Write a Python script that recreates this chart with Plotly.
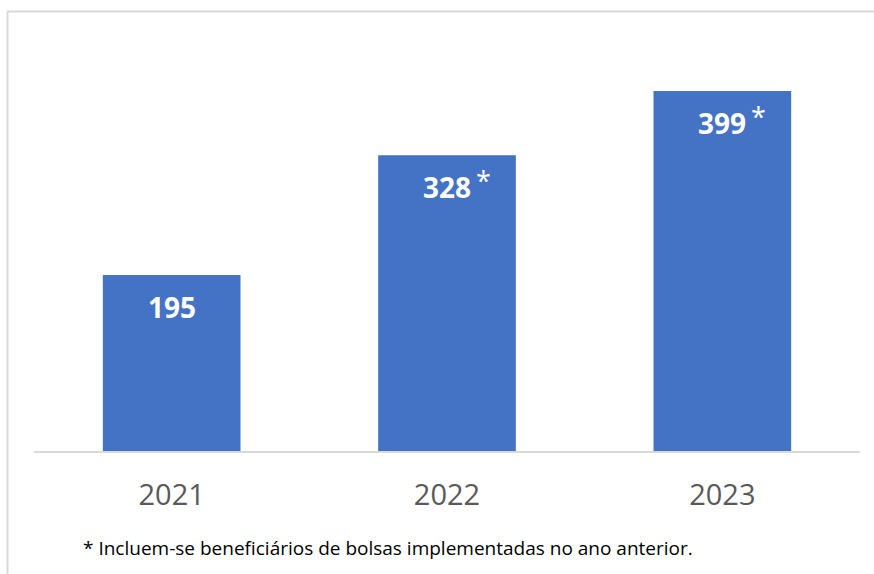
import plotly.graph_objects as go

years = ["2021", "2022", "2023"]
values = [195, 328, 399]
notes = ["", "*", "*"]
footnote = "* Incluem-se beneficiários de bolsas implementadas no ano anterior."

W, H = 874, 574
BAR_COLOR = "#4472C4"
GRID = "#d9d9d9"
FONT = "Open Sans, DejaVu Sans, sans-serif"

fig = go.Figure()
fig.add_trace(go.Bar(
    x=years, y=values, marker=dict(color=BAR_COLOR, line=dict(width=0)),
    hoverinfo="skip", showlegend=False,
))

annotations = []
for i, (v, n) in enumerate(zip(values, notes)):
    annotations.append(dict(
        x=i, y=v, xref="x", yref="y", text=f"<b>{v}</b>", showarrow=False,
        xanchor="center", yanchor="middle", yshift=-32,
        font=dict(family=FONT, size=28, color="white"),
    ))
    if n:
        annotations.append(dict(
            x=i, y=v, xref="x", yref="y", text=n, showarrow=False,
            xanchor="left", yanchor="middle", xshift=27, yshift=-25,
            font=dict(family=FONT, size=27, color="white"),
        ))

annotations.append(dict(
    x=81 / W, y=(H - 548) / H, xref="paper", yref="paper", text=footnote,
    showarrow=False, xanchor="left", yanchor="middle",
    font=dict(family=FONT, size=19, color="#000000"),
))

fig.update_layout(
    width=W, height=H,
    margin=dict(l=0, r=0, t=0, b=0, autoexpand=False),
    paper_bgcolor="white", plot_bgcolor="white",
    bargap=0.5,
    annotations=annotations,
    shapes=[dict(
        type="rect", xref="paper", yref="paper",
        x0=7.5 / W, x1=1.02, y0=-0.02, y1=(H - 11.5) / H,
        line=dict(color=GRID, width=2), fillcolor="rgba(0,0,0,0)", layer="below",
    )],
    xaxis=dict(
        type="category", automargin=False, categoryorder="array", categoryarray=years,
        range=[-0.5, len(years) - 0.5],
        domain=[34 / W, 860 / W], showline=True, linecolor=GRID, linewidth=2,
        showgrid=False, zeroline=False, ticks="", ticklabelstandoff=17,
        tickfont=dict(family=FONT, size=29, color="#595959"),
        fixedrange=True,
    ),
    yaxis=dict(
        domain=[(H - 451) / H, 1], range=[0, 500], visible=False,
        showgrid=False, zeroline=False, fixedrange=True, automargin=False,
    ),
)

fig.write_html("out.html", config={"displayModeBar": False},
               post_script="document.body.style.margin='0';")
